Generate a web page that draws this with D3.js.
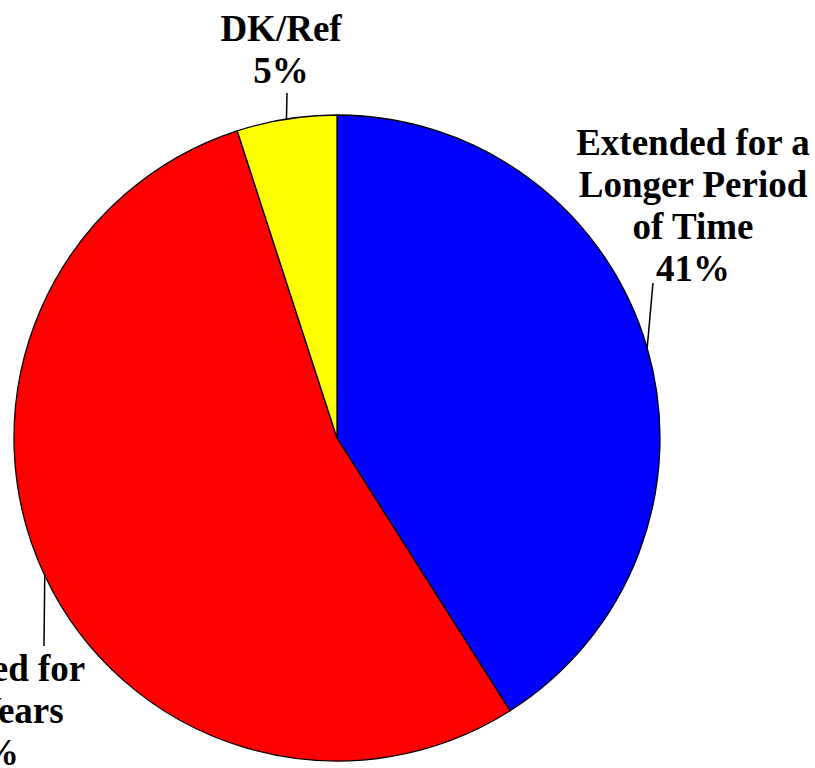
<!DOCTYPE html>
<html><head><meta charset="utf-8">
<script src="https://cdn.jsdelivr.net/npm/d3@7"></script>
<style>html,body{margin:0;padding:0;background:#fff;overflow:hidden}</style>
</head><body>
<svg id="chart" width="815" height="768"></svg>
<script>
const categories = ["Extended for a Longer Period of Time", "Extended for Two Years", "DK/Ref"];
const labelLines = [["Extended for a", "Longer Period", "of Time"], ["Extended for", "Two Years"], ["DK/Ref"]];
const values = [41, 54, 5];
const colors = ["#0000FF", "#FF0000", "#FFFF00"];

// layout (not data)
const cx = 337, cy = 438, r = 323;
const fontSize = 37, lineH = 42;
// label anchor: text centre x, last-line baseline y, leader end point
const labelLayout = [
  {tx: 693, baseY: 281, lx: 653, ly: 283},
  {tx: -18, baseY: 765, lx: 44, ly: 646},
  {tx: 281, baseY: 83, lx: 287, ly: 93}
];

const svg = d3.select("#chart");
const g = svg.append("g").attr("transform", `translate(${cx},${cy})`);
const pie = d3.pie().sort(null).value(d => d)(values);
const arc = d3.arc().innerRadius(0).outerRadius(r);

g.selectAll("path.slice").data(pie).enter().append("path")
  .attr("class", "slice")
  .attr("d", arc)
  .attr("fill", (d, i) => colors[i])
  .attr("stroke", "#000").attr("stroke-width", 1.3).attr("stroke-linejoin", "round");

pie.forEach((d, i) => {
  const a = (d.startAngle + d.endAngle) / 2;
  const sx = cx + r * Math.sin(a), sy = cy - r * Math.cos(a);
  const L = labelLayout[i];
  svg.append("line").attr("x1", sx).attr("y1", sy).attr("x2", L.lx).attr("y2", L.ly)
    .attr("stroke", "#000").attr("stroke-width", 1.5);
  const lines = labelLines[i].concat([d3.format(".0f")(values[i]) + "%"]);
  const t = svg.append("text").attr("text-anchor", "middle")
    .attr("font-family", "'Liberation Serif','Times New Roman',serif")
    .attr("font-weight", "bold").attr("font-size", fontSize).attr("fill", "#000");
  lines.forEach((s, k) => {
    t.append("tspan").attr("x", L.tx).attr("y", L.baseY - (lines.length - 1 - k) * lineH).text(s);
  });
});
</script>
</body></html>
